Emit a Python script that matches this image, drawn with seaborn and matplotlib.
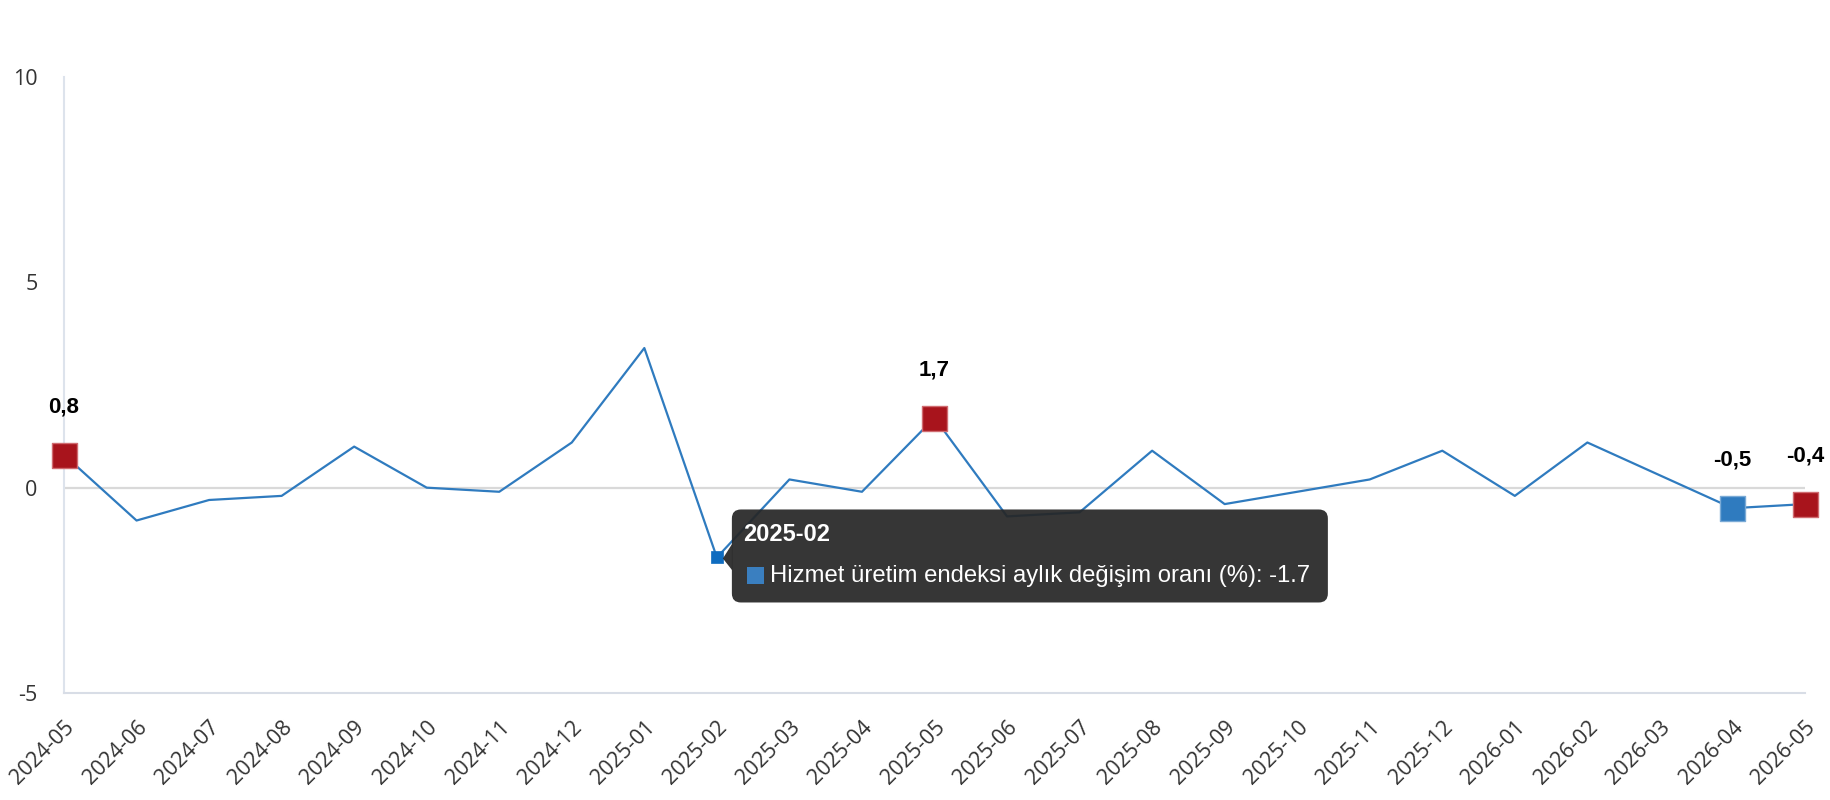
import matplotlib
matplotlib.use("Agg")
import matplotlib.pyplot as plt
import matplotlib.transforms as mtransforms
from matplotlib.patches import FancyBboxPatch, Polygon, Rectangle
import seaborn as sns
import pandas as pd

months = ["2024-05", "2024-06", "2024-07", "2024-08", "2024-09", "2024-10", "2024-11",
          "2024-12", "2025-01", "2025-02", "2025-03", "2025-04", "2025-05", "2025-06",
          "2025-07", "2025-08", "2025-09", "2025-10", "2025-11", "2025-12", "2026-01",
          "2026-02", "2026-03", "2026-04", "2026-05"]
values = [0.8, -0.8, -0.3, -0.2, 1.0, 0.0, -0.1, 1.1, 3.4, -1.7, 0.2, -0.1, 1.7, -0.7,
          -0.6, 0.9, -0.4, -0.1, 0.2, 0.9, -0.2, 1.1, 0.3, -0.5, -0.4]
red_months = ["2024-05", "2025-05", "2026-05"]
blue_months = ["2026-04"]
hover_month = "2025-02"
series_name = "Hizmet üretim endeksi aylık değişim oranı (%)"
yticks = [-5, 0, 5, 10]

LINE = "#2f7bbf"
RED = "#a8141c"
BLUE = "#2f7bbf"

sns.set_theme(style="white")
plt.rcParams["font.family"] = ["Open Sans", "DejaVu Sans"]

df = pd.DataFrame({"month": months, "value": values})
df["idx"] = range(len(df))

fig = plt.figure(figsize=(18.3, 8), dpi=100)
ax = fig.add_axes([64 / 1830, 1 - 693 / 800, (1805 - 64) / 1830, (693 - 77) / 800])

ax.axhline(0, color="#d9d9d9", lw=1.6, zorder=1)
sns.lineplot(data=df, x="idx", y="value", color=LINE, lw=1.6, ax=ax, zorder=3)

red_df = df[df["month"].isin(red_months)]
blue_df = df[df["month"].isin(blue_months)]
hov_df = df[df["month"] == hover_month]

sns.scatterplot(data=red_df, x="idx", y="value", marker="s", s=18 ** 2, color=RED,
                edgecolor="#d06b70", linewidth=1, ax=ax, zorder=4, clip_on=False)
sns.scatterplot(data=blue_df, x="idx", y="value", marker="s", s=18 ** 2, color=BLUE,
                edgecolor="#7aaad6", linewidth=1, ax=ax, zorder=4, clip_on=False)
sns.scatterplot(data=hov_df, x="idx", y="value", marker="s", s=8.6 ** 2, color="#0f6cc0",
                edgecolor="#0f6cc0", linewidth=0.5, ax=ax, zorder=4, clip_on=False)

for _, r in pd.concat([red_df, blue_df]).iterrows():
    ax.annotate(f"{r['value']:.1f}".replace(".", ","), (r["idx"], r["value"]),
                xytext=(0, 48), textcoords="offset pixels", ha="center", va="center",
                fontsize=16, fontweight="bold", color="black",
                family=["Liberation Sans", "DejaVu Sans"], zorder=6, annotation_clip=False)

ax.set_xlim(0, len(months) - 1)
ax.set_ylim(-5, 10)
ax.set_yticks(yticks)
ax.set_yticklabels([str(t) for t in yticks])
ax.set_xticks(range(len(months)))
ax.set_xticklabels(months, rotation=45, ha="right", va="top", rotation_mode="anchor")
ax.tick_params(axis="y", length=0, pad=19, labelsize=15.5, labelcolor="#333333")
ax.tick_params(axis="x", length=0, pad=17, labelsize=15.5, labelcolor="#333333")
ax.set_xlabel("")
ax.set_ylabel("")
for s in ["top", "right"]:
    ax.spines[s].set_visible(False)
ax.spines["left"].set_color("#dde3ec")
ax.spines["left"].set_linewidth(1.5)
ax.spines["bottom"].set_color("#d8dde6")
ax.spines["bottom"].set_linewidth(1.5)
ax.grid(False)

# tooltip
hv = hov_df.iloc[0]
px, py = ax.transData.transform((hv["idx"], hv["value"]))
ident = mtransforms.IdentityTransform()
box = FancyBboxPatch((px + 15, py - 45), 596, 93,
                     boxstyle="round,pad=0,rounding_size=9", transform=ident,
                     fc="#262626", ec="none", alpha=0.93, zorder=7, clip_on=False)
ax.add_patch(box)
tri = Polygon([(px + 15.5, py + 14), (px + 15.5, py - 13), (px + 6, py - 1)], closed=True,
              transform=ident, fc="#262626", ec="none", alpha=0.93, zorder=7, clip_on=False)
ax.add_patch(tri)
ax.add_patch(Rectangle((px + 30, py - 27), 17, 17, transform=ident, fc="#3a7fc0",
                       ec="none", zorder=8, clip_on=False))
ax.text(px + 26, py + 23, hover_month, transform=ident, ha="left", va="center",
        fontsize=17, fontweight="bold", color="white",
        family=["Liberation Sans", "DejaVu Sans"], zorder=8)
ax.text(px + 53, py - 18.5, f"{series_name}: {hv['value']}", transform=ident,
        ha="left", va="center", fontsize=17.2, color="white",
        family=["Liberation Sans", "DejaVu Sans"], zorder=8)

fig.savefig("out.png", dpi=100)
